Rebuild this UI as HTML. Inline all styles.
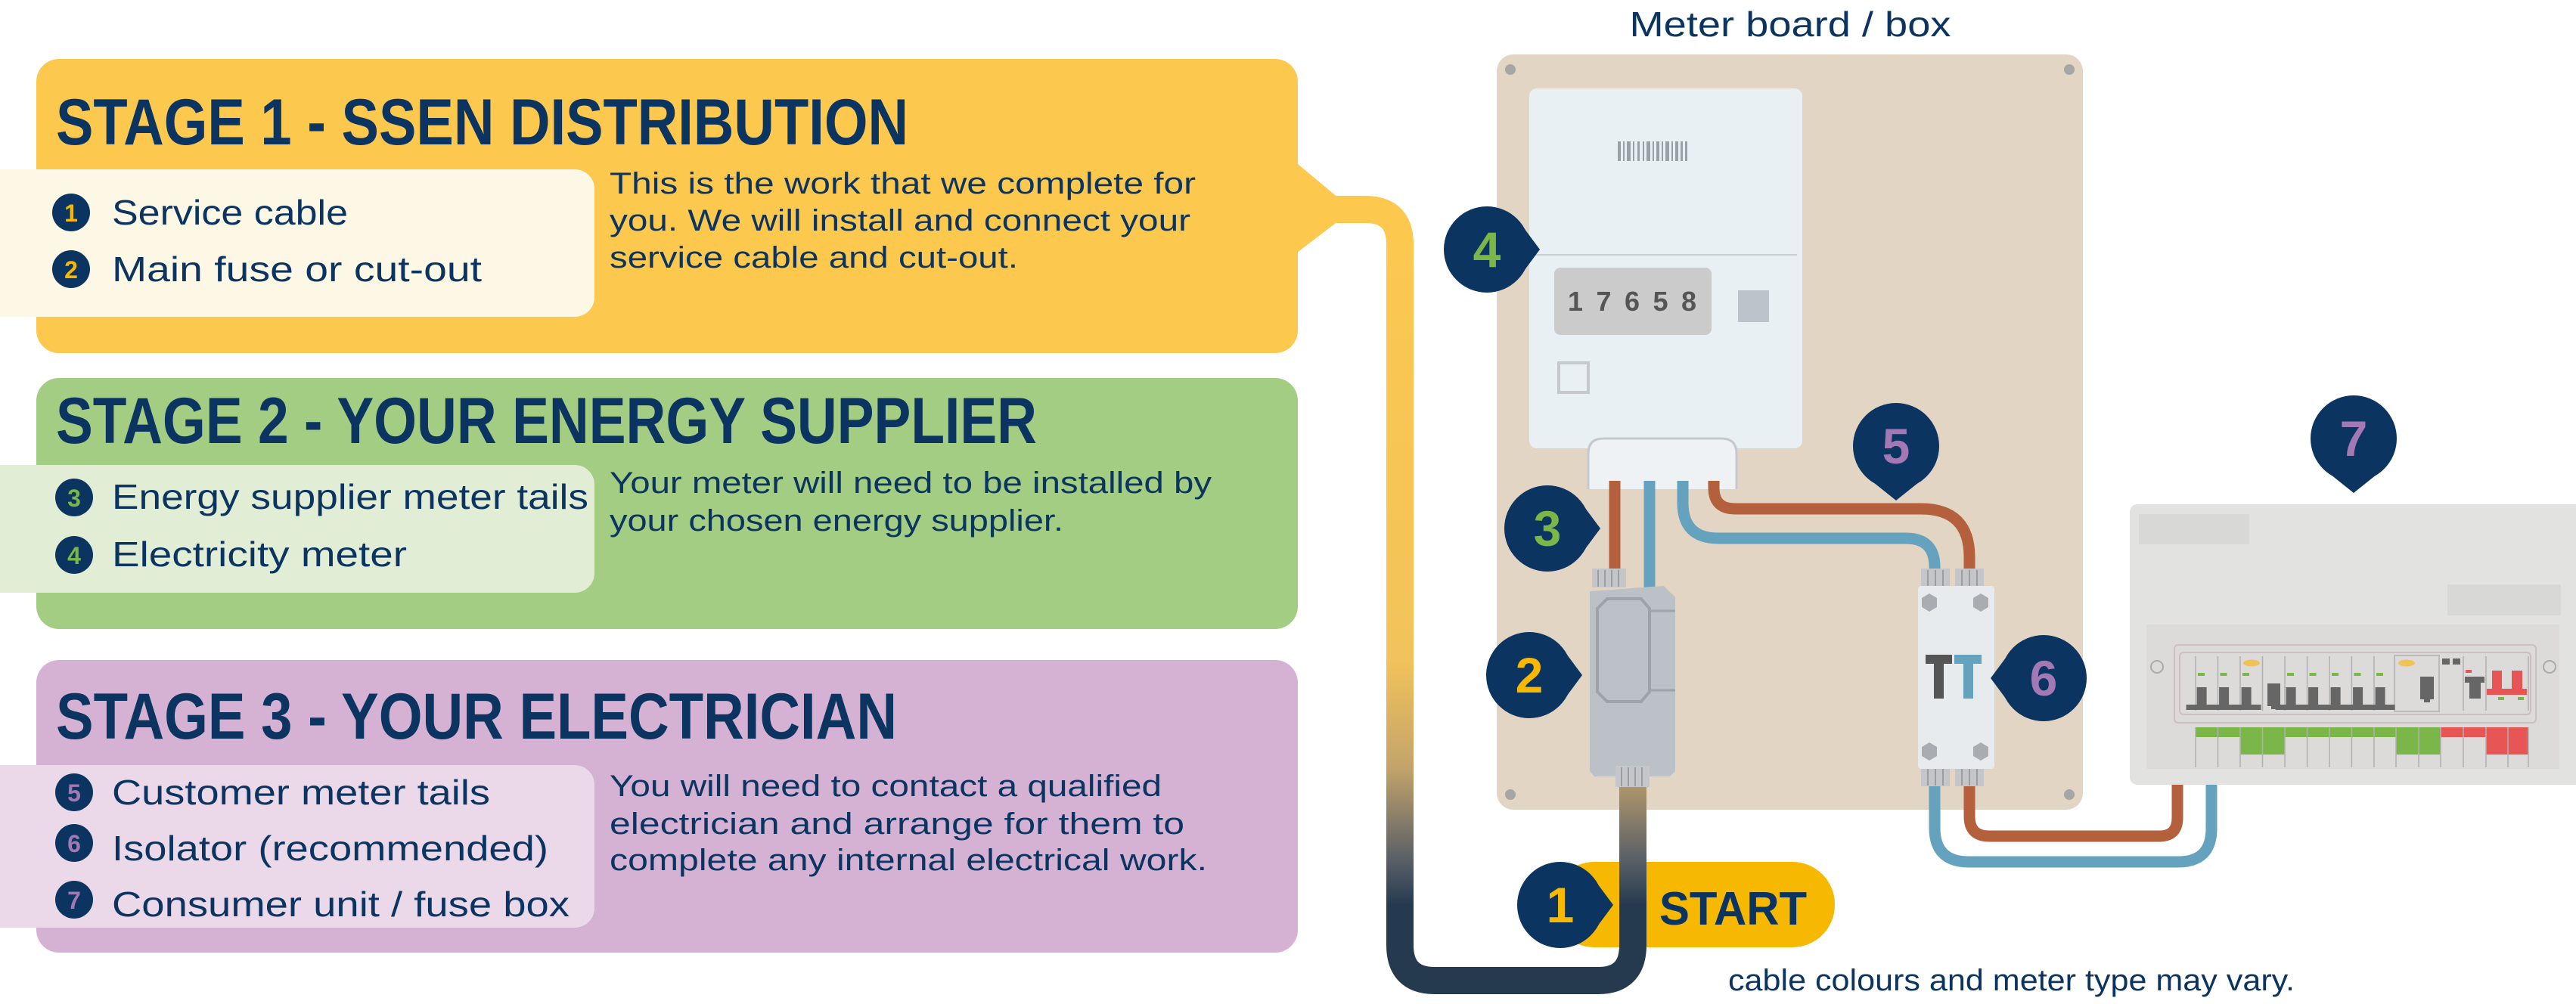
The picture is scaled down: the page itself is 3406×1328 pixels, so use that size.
<!DOCTYPE html>
<html><head><meta charset="utf-8"><style>
html,body{margin:0;padding:0;background:#fff;}
svg{display:block;}
text{font-family:"Liberation Sans",sans-serif;}
</style></head><body>
<svg width="3406" height="1328" viewBox="0 0 3406 1328" xmlns="http://www.w3.org/2000/svg">
<defs>
<linearGradient id="cg" gradientUnits="userSpaceOnUse" x1="0" y1="280" x2="0" y2="1300">
<stop offset="0" stop-color="#fdc84e"/>
<stop offset="0.58" stop-color="#f2c35a"/>
<stop offset="0.72" stop-color="#c4a46a"/>
<stop offset="0.84" stop-color="#5a6068"/>
<stop offset="0.9" stop-color="#253a4f"/>
<stop offset="1" stop-color="#253a4f"/>
</linearGradient>
</defs>

<!-- STAGE 1 -->
<rect x="48" y="78" width="1668" height="389" rx="30" fill="#fdc84e"/>
<polygon points="1710,212 1770,262 1770,292 1710,338" fill="#fdc84e"/>
<rect x="0" y="224" width="786" height="195" rx="26" fill="#fdf7e6"/>
<rect x="0" y="224" width="40" height="195" fill="#fdf7e6"/>
<text x="74" y="191" font-size="86" font-weight="bold" fill="#0b3560" textLength="1127" lengthAdjust="spacingAndGlyphs">STAGE 1 - SSEN DISTRIBUTION</text>
<circle cx="94" cy="281" r="25" fill="#0b3560"/><text x="94" y="293" font-size="32" font-weight="bold" fill="#f6b800" text-anchor="middle">1</text>
<text x="148" y="297" font-size="46" fill="#0b3560" textLength="312" lengthAdjust="spacingAndGlyphs">Service cable</text>
<circle cx="94" cy="356" r="25" fill="#0b3560"/><text x="94" y="368" font-size="32" font-weight="bold" fill="#f6b800" text-anchor="middle">2</text>
<text x="148" y="372" font-size="46" fill="#0b3560" textLength="489" lengthAdjust="spacingAndGlyphs">Main fuse or cut-out</text>
<text font-size="40" fill="#0b3560">
<tspan x="806" y="256" textLength="775" lengthAdjust="spacingAndGlyphs">This is the work that we complete for</tspan>
<tspan x="806" y="305" textLength="768" lengthAdjust="spacingAndGlyphs">you. We will install and connect your</tspan>
<tspan x="806" y="354" textLength="540" lengthAdjust="spacingAndGlyphs">service cable and cut-out.</tspan>
</text>

<!-- STAGE 2 -->
<rect x="48" y="500" width="1668" height="332" rx="30" fill="#a3cd82"/>
<rect x="0" y="615" width="786" height="169" rx="26" fill="#e2edd6"/>
<rect x="0" y="615" width="40" height="169" fill="#e2edd6"/>
<text x="74" y="586" font-size="86" font-weight="bold" fill="#0b3560" textLength="1297" lengthAdjust="spacingAndGlyphs">STAGE 2 - YOUR ENERGY SUPPLIER</text>
<circle cx="98" cy="658" r="25" fill="#0b3560"/><text x="98" y="670" font-size="32" font-weight="bold" fill="#7ab648" text-anchor="middle">3</text>
<text x="148" y="673" font-size="46" fill="#0b3560" textLength="630" lengthAdjust="spacingAndGlyphs">Energy supplier meter tails</text>
<circle cx="98" cy="734" r="25" fill="#0b3560"/><text x="98" y="746" font-size="32" font-weight="bold" fill="#7ab648" text-anchor="middle">4</text>
<text x="148" y="749" font-size="46" fill="#0b3560" textLength="390" lengthAdjust="spacingAndGlyphs">Electricity meter</text>
<text font-size="40" fill="#0b3560">
<tspan x="806" y="652" textLength="796" lengthAdjust="spacingAndGlyphs">Your meter will need to be installed by</tspan>
<tspan x="806" y="702" textLength="600" lengthAdjust="spacingAndGlyphs">your chosen energy supplier.</tspan>
</text>

<!-- STAGE 3 -->
<rect x="48" y="873" width="1668" height="387" rx="30" fill="#d5b1d3"/>
<rect x="0" y="1012" width="786" height="215" rx="26" fill="#ebd9ea"/>
<rect x="0" y="1012" width="40" height="215" fill="#ebd9ea"/>
<text x="74" y="977" font-size="86" font-weight="bold" fill="#0b3560" textLength="1112" lengthAdjust="spacingAndGlyphs">STAGE 3 - YOUR ELECTRICIAN</text>
<circle cx="98" cy="1048" r="25" fill="#0b3560"/><text x="98" y="1060" font-size="32" font-weight="bold" fill="#a279b5" text-anchor="middle">5</text>
<text x="148" y="1064" font-size="46" fill="#0b3560" textLength="500" lengthAdjust="spacingAndGlyphs">Customer meter tails</text>
<circle cx="98" cy="1115" r="25" fill="#0b3560"/><text x="98" y="1127" font-size="32" font-weight="bold" fill="#a279b5" text-anchor="middle">6</text>
<text x="148" y="1138" font-size="46" fill="#0b3560" textLength="577" lengthAdjust="spacingAndGlyphs">Isolator (recommended)</text>
<circle cx="98" cy="1190" r="25" fill="#0b3560"/><text x="98" y="1202" font-size="32" font-weight="bold" fill="#a279b5" text-anchor="middle">7</text>
<text x="148" y="1212" font-size="46" fill="#0b3560" textLength="605" lengthAdjust="spacingAndGlyphs">Consumer unit / fuse box</text>
<text font-size="40" fill="#0b3560">
<tspan x="806" y="1053" textLength="730" lengthAdjust="spacingAndGlyphs">You will need to contact a qualified</tspan>
<tspan x="806" y="1103" textLength="760" lengthAdjust="spacingAndGlyphs">electrician and arrange for them to</tspan>
<tspan x="806" y="1151" textLength="790" lengthAdjust="spacingAndGlyphs">complete any internal electrical work.</tspan>
</text>

<!-- Meter board -->
<text x="2367" y="48" font-size="46" fill="#0b3560" text-anchor="middle" textLength="425" lengthAdjust="spacingAndGlyphs">Meter board / box</text>
<rect x="1979" y="72" width="775" height="999" rx="22" fill="#e3d5c4"/>
<circle cx="1997" cy="92" r="7" fill="#a6a6a6"/><circle cx="2736" cy="92" r="7" fill="#a6a6a6"/>
<circle cx="1997" cy="1051" r="7" fill="#a6a6a6"/><circle cx="2736" cy="1051" r="7" fill="#a6a6a6"/>

<!-- START pill -->
<rect x="2052" y="1140" width="374" height="113" rx="56" fill="#f6b800"/>
<text x="2194" y="1223" font-size="62" font-weight="bold" fill="#0b3560" textLength="195" lengthAdjust="spacingAndGlyphs">START</text>

<!-- Service cable -->
<path d="M1760,277 H1805 Q1851,277 1851,323 V1250 Q1851,1297 1897,1297 H2113 Q2159,1297 2159,1250 V1030" fill="none" stroke="url(#cg)" stroke-width="36"/>

<!-- meter -->
<rect x="2022" y="117" width="361" height="476" rx="10" fill="#e9f0f4"/>
<line x1="2030" y1="337" x2="2376" y2="337" stroke="#c8cdd2" stroke-width="2"/>
<g fill="#9aa0a6">
<rect x="2139" y="187" width="4" height="26"/><rect x="2146" y="187" width="2" height="26"/><rect x="2151" y="187" width="5" height="26"/><rect x="2159" y="187" width="2" height="26"/><rect x="2165" y="187" width="3" height="26"/><rect x="2172" y="187" width="2" height="26"/><rect x="2177" y="187" width="5" height="26"/><rect x="2185" y="187" width="2" height="26"/><rect x="2190" y="187" width="4" height="26"/><rect x="2197" y="187" width="2" height="26"/><rect x="2202" y="187" width="5" height="26"/><rect x="2210" y="187" width="2" height="26"/><rect x="2215" y="187" width="4" height="26"/><rect x="2222" y="187" width="3" height="26"/><rect x="2228" y="187" width="3" height="26"/>
</g>
<rect x="2055" y="354" width="208" height="89" rx="8" fill="#cbcbcb"/>
<text x="2073" y="411" font-size="36" font-weight="bold" fill="#555" textLength="170" lengthAdjust="spacing">17658</text>
<rect x="2298" y="384" width="41" height="42" fill="#bcc3ca"/>
<rect x="2061" y="480" width="39" height="39" fill="none" stroke="#c5c9cd" stroke-width="4"/>
<path d="M2100,647 V600 Q2100,580 2120,580 H2276 Q2296,580 2296,600 V647" fill="#eef2f5" stroke="#c5c9cd" stroke-width="3"/>

<!-- meter tails -->
<line x1="2135" y1="636" x2="2135" y2="760" stroke="#b5603c" stroke-width="15"/>
<line x1="2181" y1="636" x2="2181" y2="790" stroke="#65a2bd" stroke-width="15"/>
<path d="M2225,636 V665 Q2225,712 2272,712 H2520 Q2558,712 2558,750 V765" fill="none" stroke="#65a2bd" stroke-width="15"/>
<path d="M2266,636 V645 Q2266,673 2294,673 H2540 Q2604,673 2604,737 V765" fill="none" stroke="#b5603c" stroke-width="15"/>

<!-- fuse / cut-out -->
<rect x="2105" y="752" width="45" height="25" fill="#c4c6c9"/>
<g stroke="#9a9da1" stroke-width="2"><line x1="2113" y1="754" x2="2113" y2="776"/><line x1="2122" y1="754" x2="2122" y2="776"/><line x1="2131" y1="754" x2="2131" y2="776"/><line x1="2140" y1="754" x2="2140" y2="776"/></g>
<polygon points="2102,782 2200,775 2215,790 2215,1020 2208,1027 2108,1027 2102,1020" fill="#bcc1c8"/>
<polygon points="2125,792 2170,792 2181,805 2181,915 2170,928 2125,928 2112,915 2112,805" fill="none" stroke="#9ea3a9" stroke-width="4"/>
<line x1="2181" y1="808" x2="2215" y2="808" stroke="#9ea3a9" stroke-width="3"/>
<line x1="2181" y1="913" x2="2215" y2="913" stroke="#9ea3a9" stroke-width="3"/>
<rect x="2136" y="1013" width="45" height="28" fill="#c4c6c9"/>
<g stroke="#9a9da1" stroke-width="2"><line x1="2144" y1="1015" x2="2144" y2="1040"/><line x1="2153" y1="1015" x2="2153" y2="1040"/><line x1="2162" y1="1015" x2="2162" y2="1040"/><line x1="2171" y1="1015" x2="2171" y2="1040"/></g>

<!-- isolator -->
<path d="M2558,1020 V1095 Q2558,1140 2603,1140 H2880 Q2924,1140 2924,1096 V1035" fill="none" stroke="#65a2bd" stroke-width="15"/>
<path d="M2604,1020 V1080 Q2604,1106 2630,1106 H2855 Q2879,1106 2879,1082 V1035" fill="none" stroke="#b5603c" stroke-width="15"/>
<rect x="2540" y="752" width="38" height="25" fill="#c4c6c9"/><rect x="2585" y="752" width="38" height="25" fill="#c4c6c9"/>
<rect x="2540" y="1015" width="38" height="25" fill="#c4c6c9"/><rect x="2585" y="1015" width="38" height="25" fill="#c4c6c9"/>
<g stroke="#9a9da1" stroke-width="2"><line x1="2549" y1="754" x2="2549" y2="776"/><line x1="2559" y1="754" x2="2559" y2="776"/><line x1="2569" y1="754" x2="2569" y2="776"/><line x1="2594" y1="754" x2="2594" y2="776"/><line x1="2604" y1="754" x2="2604" y2="776"/><line x1="2614" y1="754" x2="2614" y2="776"/>
<line x1="2549" y1="1017" x2="2549" y2="1039"/><line x1="2559" y1="1017" x2="2559" y2="1039"/><line x1="2569" y1="1017" x2="2569" y2="1039"/><line x1="2594" y1="1017" x2="2594" y2="1039"/><line x1="2604" y1="1017" x2="2604" y2="1039"/><line x1="2614" y1="1017" x2="2614" y2="1039"/></g>
<rect x="2536" y="775" width="101" height="242" rx="4" fill="#e8ebee"/>
<g fill="#a9adb2">
<polygon points="2551,785 2561,791 2561,803 2551,809 2541,803 2541,791"/>
<polygon points="2619,785 2629,791 2629,803 2619,809 2609,803 2609,791"/>
<polygon points="2551,982 2561,988 2561,1000 2551,1006 2541,1000 2541,988"/>
<polygon points="2619,982 2629,988 2629,1000 2619,1006 2609,1000 2609,988"/>
</g>
<path d="M2546,866 H2581 V878 H2570 V924 H2557 V878 H2546 Z" fill="#555"/>
<path d="M2584,866 H2620 V878 H2609 V924 H2596 V878 H2584 Z" fill="#65a2bd"/>

<!-- consumer unit -->
<rect x="2816" y="667" width="600" height="371" rx="10" fill="#e2e2e1"/>
<rect x="2828" y="680" width="146" height="40" fill="#d8d8d7"/>
<rect x="3236" y="773" width="150" height="41" fill="#d8d8d7"/>
<rect x="2838" y="826" width="546" height="191" fill="#dcdbda"/>
<circle cx="2852" cy="882" r="8" fill="none" stroke="#aaa" stroke-width="2"/>
<circle cx="3371" cy="882" r="8" fill="none" stroke="#aaa" stroke-width="2"/>
<rect x="2875" y="853" width="478" height="103" rx="5" fill="none" stroke="#cbbfbf" stroke-width="2"/>
<rect x="2882" y="863" width="464" height="82" rx="5" fill="none" stroke="#cbbfbf" stroke-width="2"/>
<g stroke="#b0b0b0" stroke-width="1.5">
<line x1="2903" y1="868" x2="2903" y2="940"/><line x1="2932.5" y1="868" x2="2932.5" y2="940"/><line x1="2962" y1="868" x2="2962" y2="940"/><line x1="2991.5" y1="868" x2="2991.5" y2="940"/><line x1="3021" y1="868" x2="3021" y2="940"/><line x1="3050.5" y1="868" x2="3050.5" y2="940"/><line x1="3080" y1="868" x2="3080" y2="940"/><line x1="3109.5" y1="868" x2="3109.5" y2="940"/><line x1="3139" y1="868" x2="3139" y2="940"/><line x1="3257" y1="868" x2="3257" y2="940"/><line x1="3287" y1="868" x2="3287" y2="940"/><line x1="3343" y1="868" x2="3343" y2="940"/>
</g>
<rect x="3166" y="867" width="59" height="74" fill="none" stroke="#b0b0b0" stroke-width="1.5"/>
<g fill="#666">
<path d="M2911.6,909 h13 v23 h13 v7 h-40 v-7 h14 z" transform="translate(-7,0)"/>
<path d="M2941.1,909 h13 v23 h13 v7 h-40 v-7 h14 z" transform="translate(-7,0)"/>
<path d="M2970.6,909 h13 v23 h13 v7 h-40 v-7 h14 z" transform="translate(-7,0)"/>
<path d="M3029.6,909 h13 v23 h13 v7 h-40 v-7 h14 z" transform="translate(-7,0)"/>
<path d="M3059.1,909 h13 v23 h13 v7 h-40 v-7 h14 z" transform="translate(-7,0)"/>
<path d="M3088.6,909 h13 v23 h13 v7 h-40 v-7 h14 z" transform="translate(-7,0)"/>
<path d="M3118.1,909 h13 v23 h13 v7 h-40 v-7 h14 z" transform="translate(-7,0)"/>
<path d="M3147.6,909 h13 v23 h13 v7 h-40 v-7 h14 z" transform="translate(-7,0)"/>
<path d="M2998,904 h17 v30 h-5 v4 h-7 v-4 h-5 z"/>
<path d="M3200,895 h18 v30 h-5 v4 h-8 v-4 h-5 z"/>
<rect x="3229" y="871" width="10" height="8"/><rect x="3243" y="871" width="10" height="8"/>
<path d="M3259,895 h26 v8 h-5 v21 h-15 v-21 h-6 z"/>
</g>
<g fill="#7ab648">
<rect x="2906" y="890" width="9" height="4"/><rect x="2935.5" y="890" width="9" height="4"/><rect x="2965" y="890" width="9" height="4"/><rect x="3024" y="890" width="9" height="4"/><rect x="3053.5" y="890" width="9" height="4"/><rect x="3083" y="890" width="9" height="4"/><rect x="3112.5" y="890" width="9" height="4"/><rect x="3142" y="890" width="9" height="4"/>
<rect x="3303" y="922" width="8" height="4"/><rect x="3329" y="922" width="8" height="4"/>
</g>
<ellipse cx="2977" cy="877" rx="11" ry="4.5" fill="#f0c25a"/>
<ellipse cx="3182" cy="877" rx="11" ry="4.5" fill="#f0c25a"/>
<g fill="#e85555">
<rect x="3260" y="886" width="8" height="4"/>
<path d="M3295,887 h13 v24 h13 v-24 h14 v24 h6 v8 h-53 v-8 h7 z"/>
</g>
<g>
<rect x="2903" y="962" width="275" height="13" fill="#7ab648"/>
<rect x="2962" y="962" width="59" height="36" fill="#7ab648"/>
<rect x="3168" y="962" width="59" height="36" fill="#7ab648"/>
<rect x="3227" y="962" width="116" height="13" fill="#e85555"/>
<rect x="3287" y="962" width="56" height="36" fill="#e85555"/>
</g>
<g stroke="#b0b0b0" stroke-width="1.5">
<line x1="2903" y1="962" x2="2903" y2="1015"/><line x1="2932.5" y1="962" x2="2932.5" y2="1015"/><line x1="2962" y1="962" x2="2962" y2="1015"/><line x1="2991.5" y1="962" x2="2991.5" y2="1015"/><line x1="3021" y1="962" x2="3021" y2="1015"/><line x1="3050.5" y1="962" x2="3050.5" y2="1015"/><line x1="3080" y1="962" x2="3080" y2="1015"/><line x1="3109.5" y1="962" x2="3109.5" y2="1015"/><line x1="3139" y1="962" x2="3139" y2="1015"/><line x1="3168" y1="962" x2="3168" y2="1015"/><line x1="3198" y1="962" x2="3198" y2="1015"/><line x1="3227" y1="962" x2="3227" y2="1015"/><line x1="3257" y1="962" x2="3257" y2="1015"/><line x1="3287" y1="962" x2="3287" y2="1015"/><line x1="3316" y1="962" x2="3316" y2="1015"/><line x1="3343" y1="962" x2="3343" y2="1015"/>
</g>

<!-- markers -->
<g fill="#0b3560">
<circle cx="1966" cy="330" r="57"/><polygon points="2010,295 2036,330 2010,365"/>
<circle cx="2046" cy="699" r="57"/><polygon points="2090,664 2116,699 2090,734"/>
<circle cx="2022" cy="893" r="57"/><polygon points="2066,858 2092,893 2066,928"/>
<circle cx="2063" cy="1197" r="57"/><polygon points="2107,1162 2133,1197 2107,1232"/>
<circle cx="2507" cy="590" r="57"/><polygon points="2472,634 2507,662 2542,634"/>
<circle cx="2702" cy="897" r="57"/><polygon points="2658,862 2632,897 2658,932"/>
<circle cx="3112" cy="580" r="57"/><polygon points="3077,624 3112,652 3147,624"/>
</g>
<g font-size="66" font-weight="bold" text-anchor="middle">
<text x="1966" y="353" fill="#7ab648">4</text>
<text x="2046" y="722" fill="#7ab648">3</text>
<text x="2022" y="916" fill="#f6b800">2</text>
<text x="2063" y="1220" fill="#f6b800">1</text>
<text x="2507" y="613" fill="#a279b5">5</text>
<text x="2702" y="920" fill="#a279b5">6</text>
<text x="3112" y="603" fill="#a279b5">7</text>
</g>

<text x="2285" y="1310" font-size="40" fill="#0b3560" textLength="749" lengthAdjust="spacingAndGlyphs">cable colours and meter type may vary.</text>
</svg>
</body></html>
